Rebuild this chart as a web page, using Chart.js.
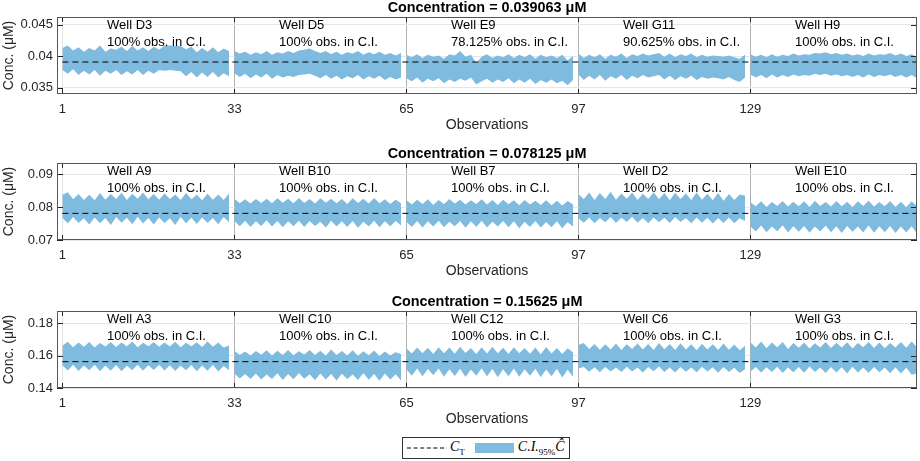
<!DOCTYPE html>
<html lang="en">
<head>
    <meta charset="UTF-8">
    <title>Confidence intervals per well</title>
    <script src="https://cdn.jsdelivr.net/npm/chart.js"></script>
    <style>
        body {
            margin: 0;
            background: #fff;
            font-family: "Liberation Sans", Arial, sans-serif;
        }
        #wrap {
            position: relative;
            width: 920px;
            height: 461px;
        }
        #wrap canvas {
            position: absolute;
            left: 0;
        }
        #legend {
            position: absolute;
            left: 402px;
            top: 437px;
            width: 166px;
            height: 20px;
            border: 1px solid #333;
            display: flex;
            align-items: center;
            font-family: "Liberation Serif", "DejaVu Serif", serif;
            font-style: italic;
            font-size: 14px;
            color: #000;
        }
        #legend sub {
            font-size: 9px;
            font-style: normal;
        }
        .patch {
            display: inline-block;
            width: 39px;
            height: 10px;
            background: rgb(127, 187, 222);
            margin: 0 4px 0 10px;
        }
    </style>
</head>
<body>
<div id="wrap">
    <canvas id="c1" width="920" height="137" style="top:0px"></canvas>
    <canvas id="c2" width="920" height="137" style="top:146px"></canvas>
    <canvas id="c3" width="920" height="137" style="top:294px"></canvas>

    <!-- figure legend -->
    <div id="legend">
        <svg width="40" height="6" style="margin-left:4px"><line x1="0" y1="3" x2="40" y2="3" stroke="#000" stroke-width="1" stroke-dasharray="4 2.6"/></svg>
        <span style="margin-left:3px">C<sub>T</sub></span>
        <span class="patch"></span>
        <span>C.I.<sub>95%</sub>Ĉ</span>
    </div>
</div>

<script>
    // shared x layout: 5 wells x 32 observations
    const WELL_STARTS = [1, 33, 65, 97, 129];
    const OBS_PER_WELL = 32;
    const X_TICKS = [1, 33, 65, 97, 129];
    const X_RANGE = [0, 160];

    // panel 1
    const p1Title = 'Concentration = 0.039063 μM';
    const p1Target = 0.039063;
    const p1Wells = ['Well D3', 'Well D5', 'Well E9', 'Well G11', 'Well H9'];
    const p1InCI = ['100%', '100%', '78.125%', '90.625%', '100%'];
    const p1YTicks = [0.035, 0.04, 0.045];
    const p1YLabels = ['0.035', '0.04', '0.045'];
    const p1YRange = [0.034, 0.0462];
    const p1Upper = [
        0.0413,0.0417,0.0409,0.0414,0.0407,0.0413,0.0409,0.0417,0.0407,0.0412,0.0410,0.0415,0.0408,0.0416,0.0409,0.0414,
        0.0408,0.0415,0.0410,0.0417,0.0417,0.0416,0.0416,0.0411,0.0415,0.0406,0.0413,0.0407,0.0414,0.0406,0.0412,0.0408,
        0.0408,0.0404,0.0407,0.0402,0.0406,0.0403,0.0408,0.0402,0.0406,0.0404,0.0408,0.0405,0.0409,0.0410,0.0412,0.0408,
        0.0405,0.0408,0.0403,0.0407,0.0402,0.0406,0.0404,0.0408,0.0402,0.0406,0.0403,0.0407,0.0402,0.0405,0.0401,0.0405,
        0.0402,0.0398,0.0403,0.0397,0.0402,0.0399,0.0401,0.0396,0.0403,0.0401,0.0408,0.0399,0.0402,0.0389,0.0399,0.0403,
        0.0397,0.0401,0.0398,0.0403,0.0397,0.0402,0.0398,0.0403,0.0396,0.0402,0.0398,0.0401,0.0397,0.0402,0.0393,0.0400,
        0.0404,0.0397,0.0402,0.0398,0.0403,0.0396,0.0402,0.0399,0.0404,0.0397,0.0403,0.0400,0.0404,0.0401,0.0403,0.0405,
        0.0399,0.0404,0.0398,0.0403,0.0400,0.0404,0.0398,0.0402,0.0399,0.0401,0.0400,0.0399,0.0401,0.0398,0.0396,0.0402,
        0.0403,0.0399,0.0402,0.0398,0.0403,0.0399,0.0402,0.0400,0.0404,0.0401,0.0403,0.0402,0.0405,0.0404,0.0406,0.0403,
        0.0405,0.0402,0.0404,0.0401,0.0403,0.0400,0.0404,0.0401,0.0403,0.0402,0.0405,0.0401,0.0404,0.0400,0.0403,0.0399
    ];
    const p1Lower = [
        0.0378,0.0372,0.0379,0.0370,0.0377,0.0371,0.0378,0.0369,0.0377,0.0372,0.0378,0.0370,0.0376,0.0371,0.0378,0.0370,
        0.0377,0.0372,0.0378,0.0377,0.0378,0.0377,0.0376,0.0368,0.0375,0.0366,0.0374,0.0367,0.0375,0.0366,0.0373,0.0368,
        0.0373,0.0367,0.0372,0.0365,0.0371,0.0366,0.0372,0.0364,0.0370,0.0366,0.0369,0.0367,0.0370,0.0371,0.0372,0.0369,
        0.0365,0.0370,0.0364,0.0369,0.0363,0.0368,0.0365,0.0370,0.0363,0.0368,0.0364,0.0369,0.0362,0.0367,0.0363,0.0366,
        0.0365,0.0360,0.0366,0.0358,0.0364,0.0360,0.0365,0.0357,0.0363,0.0359,0.0364,0.0361,0.0366,0.0355,0.0360,0.0364,
        0.0358,0.0363,0.0359,0.0365,0.0357,0.0363,0.0358,0.0364,0.0356,0.0362,0.0358,0.0363,0.0357,0.0361,0.0354,0.0362,
        0.0371,0.0362,0.0369,0.0363,0.0370,0.0361,0.0368,0.0364,0.0370,0.0362,0.0369,0.0365,0.0370,0.0366,0.0368,0.0370,
        0.0363,0.0369,0.0362,0.0368,0.0364,0.0369,0.0362,0.0367,0.0364,0.0366,0.0365,0.0363,0.0367,0.0362,0.0359,0.0366,
        0.0371,0.0366,0.0370,0.0365,0.0371,0.0366,0.0370,0.0367,0.0371,0.0368,0.0370,0.0369,0.0372,0.0370,0.0372,0.0369,
        0.0371,0.0368,0.0370,0.0367,0.0370,0.0366,0.0371,0.0367,0.0370,0.0368,0.0371,0.0367,0.0370,0.0366,0.0370,0.0365
    ];

    // panel 2
    const p2Title = 'Concentration = 0.078125 μM';
    const p2Target = 0.078125;
    const p2Wells = ['Well A9', 'Well B10', 'Well B7', 'Well D2', 'Well E10'];
    const p2InCI = ['100%', '100%', '100%', '100%', '100%'];
    const p2YTicks = [0.07, 0.08, 0.09];
    const p2YLabels = ['0.07', '0.08', '0.09'];
    const p2YRange = [0.07, 0.0935];
    const p2Upper = [
        0.0838,0.0846,0.0824,0.0840,0.0822,0.0838,0.0821,0.0843,0.0823,0.0840,0.0825,0.0844,0.0822,0.0841,0.0826,0.0845,
        0.0824,0.0840,0.0823,0.0842,0.0825,0.0839,0.0822,0.0843,0.0824,0.0838,0.0821,0.0841,0.0823,0.0839,0.0822,0.0842,
        0.0826,0.0812,0.0824,0.0811,0.0825,0.0813,0.0826,0.0812,0.0827,0.0814,0.0826,0.0812,0.0828,0.0813,0.0825,0.0811,
        0.0827,0.0814,0.0826,0.0812,0.0825,0.0810,0.0827,0.0813,0.0826,0.0811,0.0828,0.0812,0.0824,0.0810,0.0823,0.0812,
        0.0822,0.0808,0.0823,0.0810,0.0824,0.0807,0.0822,0.0809,0.0825,0.0811,0.0823,0.0808,0.0821,0.0810,0.0824,0.0808,
        0.0822,0.0807,0.0823,0.0809,0.0821,0.0806,0.0822,0.0808,0.0820,0.0807,0.0821,0.0806,0.0820,0.0805,0.0819,0.0808,
        0.0840,0.0824,0.0845,0.0822,0.0843,0.0825,0.0847,0.0823,0.0842,0.0826,0.0845,0.0822,0.0841,0.0825,0.0846,0.0824,
        0.0843,0.0821,0.0844,0.0825,0.0842,0.0822,0.0845,0.0823,0.0841,0.0821,0.0843,0.0820,0.0840,0.0822,0.0839,0.0836,
        0.0815,0.0803,0.0818,0.0801,0.0816,0.0804,0.0819,0.0802,0.0817,0.0803,0.0818,0.0801,0.0820,0.0804,0.0816,0.0802,
        0.0819,0.0803,0.0817,0.0801,0.0818,0.0804,0.0820,0.0802,0.0816,0.0803,0.0819,0.0801,0.0817,0.0800,0.0818,0.0803
    ];
    const p2Lower = [
        0.0768,0.0750,0.0770,0.0752,0.0766,0.0747,0.0769,0.0751,0.0767,0.0746,0.0770,0.0753,0.0768,0.0748,0.0771,0.0750,
        0.0767,0.0747,0.0769,0.0752,0.0766,0.0746,0.0770,0.0751,0.0768,0.0749,0.0769,0.0752,0.0767,0.0748,0.0770,0.0754,
        0.0758,0.0742,0.0759,0.0740,0.0757,0.0743,0.0760,0.0741,0.0758,0.0739,0.0757,0.0742,0.0759,0.0740,0.0758,0.0743,
        0.0756,0.0738,0.0759,0.0741,0.0757,0.0740,0.0758,0.0737,0.0756,0.0741,0.0759,0.0739,0.0757,0.0742,0.0758,0.0744,
        0.0756,0.0740,0.0758,0.0738,0.0757,0.0741,0.0759,0.0739,0.0756,0.0742,0.0758,0.0737,0.0757,0.0740,0.0759,0.0738,
        0.0756,0.0741,0.0758,0.0739,0.0757,0.0736,0.0756,0.0740,0.0758,0.0738,0.0755,0.0739,0.0757,0.0736,0.0754,0.0741,
        0.0766,0.0753,0.0769,0.0751,0.0767,0.0754,0.0770,0.0752,0.0768,0.0755,0.0771,0.0753,0.0767,0.0751,0.0769,0.0754,
        0.0768,0.0752,0.0770,0.0755,0.0767,0.0751,0.0769,0.0753,0.0768,0.0750,0.0767,0.0752,0.0769,0.0751,0.0766,0.0758,
        0.0742,0.0726,0.0744,0.0724,0.0741,0.0727,0.0745,0.0723,0.0742,0.0725,0.0743,0.0722,0.0741,0.0726,0.0744,0.0724,
        0.0742,0.0721,0.0743,0.0725,0.0741,0.0723,0.0744,0.0722,0.0742,0.0724,0.0743,0.0721,0.0741,0.0723,0.0742,0.0720
    ];

    // panel 3
    const p3Title = 'Concentration = 0.15625 μM';
    const p3Target = 0.15625;
    const p3Wells = ['Well A3', 'Well C10', 'Well C12', 'Well C6', 'Well G3'];
    const p3InCI = ['100%', '100%', '100%', '100%', '100%'];
    const p3YTicks = [0.14, 0.16, 0.18];
    const p3YLabels = ['0.14', '0.16', '0.18'];
    const p3YRange = [0.14, 0.1875];
    const p3Upper = [
        0.1660,0.1685,0.1652,0.1680,0.1655,0.1683,0.1650,0.1678,0.1656,0.1684,0.1653,0.1681,0.1658,0.1686,0.1652,0.1679,
        0.1657,0.1683,0.1654,0.1680,0.1656,0.1685,0.1651,0.1679,0.1657,0.1682,0.1653,0.1686,0.1655,0.1680,0.1650,0.1662,
        0.1630,0.1603,0.1625,0.1600,0.1628,0.1605,0.1632,0.1601,0.1629,0.1604,0.1634,0.1602,0.1627,0.1606,0.1635,0.1603,
        0.1630,0.1600,0.1637,0.1604,0.1628,0.1601,0.1633,0.1599,0.1626,0.1602,0.1631,0.1598,0.1625,0.1600,0.1620,0.1610,
        0.1645,0.1612,0.1650,0.1615,0.1648,0.1610,0.1652,0.1614,0.1649,0.1611,0.1654,0.1616,0.1647,0.1609,0.1651,0.1613,
        0.1655,0.1615,0.1648,0.1610,0.1652,0.1614,0.1646,0.1611,0.1650,0.1608,0.1653,0.1612,0.1647,0.1609,0.1645,0.1620,
        0.1665,0.1677,0.1640,0.1672,0.1636,0.1670,0.1638,0.1674,0.1635,0.1669,0.1640,0.1675,0.1637,0.1671,0.1634,0.1678,
        0.1639,0.1672,0.1635,0.1676,0.1638,0.1670,0.1633,0.1673,0.1637,0.1669,0.1634,0.1674,0.1636,0.1668,0.1632,0.1660,
        0.1682,0.1650,0.1686,0.1645,0.1680,0.1652,0.1684,0.1640,0.1678,0.1648,0.1681,0.1643,0.1676,0.1650,0.1683,0.1646,
        0.1679,0.1649,0.1682,0.1644,0.1677,0.1651,0.1684,0.1647,0.1680,0.1645,0.1678,0.1650,0.1683,0.1648,0.1686,0.1652
    ];
    const p3Lower = [
        0.1540,0.1508,0.1543,0.1505,0.1538,0.1510,0.1544,0.1503,0.1539,0.1507,0.1542,0.1504,0.1537,0.1509,0.1543,0.1506,
        0.1540,0.1511,0.1544,0.1508,0.1541,0.1505,0.1538,0.1510,0.1542,0.1503,0.1539,0.1507,0.1543,0.1502,0.1536,0.1510,
        0.1490,0.1458,0.1486,0.1455,0.1489,0.1452,0.1484,0.1456,0.1491,0.1450,0.1487,0.1454,0.1492,0.1457,0.1485,0.1448,
        0.1490,0.1453,0.1486,0.1446,0.1488,0.1455,0.1484,0.1449,0.1492,0.1451,0.1487,0.1445,0.1489,0.1452,0.1485,0.1447,
        0.1515,0.1475,0.1520,0.1472,0.1517,0.1478,0.1521,0.1470,0.1516,0.1474,0.1519,0.1468,0.1514,0.1476,0.1522,0.1471,
        0.1518,0.1467,0.1515,0.1473,0.1520,0.1469,0.1516,0.1475,0.1519,0.1466,0.1514,0.1472,0.1518,0.1465,0.1513,0.1470,
        0.1520,0.1529,0.1500,0.1528,0.1497,0.1530,0.1502,0.1527,0.1498,0.1531,0.1501,0.1526,0.1496,0.1529,0.1503,0.1532,
        0.1499,0.1527,0.1495,0.1530,0.1500,0.1526,0.1497,0.1531,0.1502,0.1528,0.1494,0.1529,0.1499,0.1525,0.1492,0.1515,
        0.1500,0.1530,0.1495,0.1528,0.1498,0.1531,0.1493,0.1527,0.1497,0.1529,0.1494,0.1532,0.1499,0.1526,0.1492,0.1530,
        0.1496,0.1528,0.1490,0.1531,0.1495,0.1527,0.1493,0.1529,0.1497,0.1526,0.1491,0.1528,0.1489,0.1525,0.1482,0.1490
    ];

    const BAND = 'rgb(127, 187, 222)';
    const FONT = '"Liberation Sans", Arial, Helvetica, sans-serif';
    const TEXT = '#262626';

    // well labels, inner tick marks and the axes box
    const framePlugin = {
        id: 'frame',
        afterDraw(chart, args, opts) {
            const { ctx, chartArea: a, scales: { x, y } } = chart;
            ctx.save();

            ctx.font = '13px ' + FONT;
            ctx.fillStyle = '#000';
            ctx.textAlign = 'left';
            ctx.textBaseline = 'alphabetic';
            opts.wells.forEach((name, w) => {
                const px = x.getPixelForValue(WELL_STARTS[w] + 8.3);
                ctx.fillText(name, px, a.top + 12.5);
                ctx.fillText(opts.inCI[w] + ' obs. in C.I.', px, a.top + 29);
            });

            ctx.strokeStyle = TEXT;
            ctx.lineWidth = 1;
            ctx.beginPath();
            X_TICKS.forEach(v => {
                const px = Math.round(x.getPixelForValue(v)) + 0.5;
                ctx.moveTo(px, a.bottom); ctx.lineTo(px, a.bottom - 5);
                ctx.moveTo(px, a.top); ctx.lineTo(px, a.top + 5);
            });
            opts.yTicks.forEach(v => {
                const py = Math.round(y.getPixelForValue(v)) + 0.5;
                ctx.moveTo(a.left, py); ctx.lineTo(a.left + 6, py);
                ctx.moveTo(a.right, py); ctx.lineTo(a.right - 6, py);
            });
            ctx.stroke();

            ctx.strokeStyle = '#555';
            ctx.strokeRect(Math.round(a.left) + 0.5, Math.round(a.top) + 0.5,
                Math.round(a.width) - 1, Math.round(a.height) - 1);
            ctx.restore();
        }
    };

    function wellPoints(values, w) {
        const pts = [];
        for (let i = 0; i < OBS_PER_WELL; i++) {
            pts.push({ x: WELL_STARTS[w] + i, y: values[w * OBS_PER_WELL + i] });
        }
        return pts;
    }

    function buildChart(id, title, target, wells, inCI, yTicks, yLabels, yRange, upper, lower) {
        // dashed target line first so it is drawn on top
        const datasets = [{
            label: 'C_T',
            data: [{ x: 1, y: target }, { x: X_RANGE[1], y: target }],
            borderColor: '#000',
            borderWidth: 1,
            borderDash: [6, 4],
            pointRadius: 0,
            fill: false
        }];
        wells.forEach((name, w) => {
            datasets.push({
                label: name + ' lower',
                data: wellPoints(lower, w),
                borderWidth: 0,
                pointRadius: 0,
                fill: false
            });
            datasets.push({
                label: name + ' upper',
                data: wellPoints(upper, w),
                borderWidth: 0,
                pointRadius: 0,
                backgroundColor: BAND,
                fill: '-1'
            });
        });

        return new Chart(document.getElementById(id), {
            type: 'line',
            data: { datasets },
            plugins: [framePlugin],
            options: {
                responsive: false,
                animation: false,
                devicePixelRatio: 1,
                layout: { padding: { left: 0, right: 3, top: 0, bottom: 0 } },
                plugins: {
                    legend: { display: false },
                    tooltip: { enabled: false },
                    title: {
                        display: true,
                        text: title,
                        fullSize: false,
                        color: '#000',
                        font: { family: FONT, size: 14.4, weight: 'bold', lineHeight: 1.15 },
                        padding: { top: 0, bottom: 0.4 }
                    },
                    frame: { wells, inCI, yTicks }
                },
                scales: {
                    x: {
                        type: 'linear',
                        min: X_RANGE[0],
                        max: X_RANGE[1],
                        afterBuildTicks: s => { s.ticks = X_TICKS.map(v => ({ value: v })); },
                        afterFit: s => { s.height = 43; },
                        border: { display: false },
                        grid: {
                            drawTicks: false,
                            color: c => (c.tick && c.tick.value === 1) ? '#e2e2e2' : '#b0b0b0'
                        },
                        ticks: {
                            autoSkip: false,
                            maxRotation: 0,
                            padding: 8,
                            color: TEXT,
                            font: { family: FONT, size: 13 },
                            callback: v => String(v)
                        },
                        title: {
                            display: true,
                            text: 'Observations',
                            color: TEXT,
                            font: { family: FONT, size: 14 },
                            padding: { top: 0, bottom: 3 }
                        }
                    },
                    y: {
                        min: yRange[0],
                        max: yRange[1],
                        afterBuildTicks: s => { s.ticks = yTicks.map(v => ({ value: v })); },
                        afterFit: s => { s.width = 57; },
                        border: { display: false },
                        grid: { drawTicks: false, color: '#e6e6e6' },
                        ticks: {
                            padding: 4,
                            color: TEXT,
                            font: { family: FONT, size: 13 },
                            callback: (v, i) => yLabels[i]
                        },
                        title: {
                            display: true,
                            text: 'Conc. (μM)',
                            color: TEXT,
                            font: { family: FONT, size: 14 },
                            padding: { top: 1, bottom: 0 }
                        }
                    }
                }
            }
        });
    }

    buildChart('c1', p1Title, p1Target, p1Wells, p1InCI, p1YTicks, p1YLabels, p1YRange, p1Upper, p1Lower);
    buildChart('c2', p2Title, p2Target, p2Wells, p2InCI, p2YTicks, p2YLabels, p2YRange, p2Upper, p2Lower);
    buildChart('c3', p3Title, p3Target, p3Wells, p3InCI, p3YTicks, p3YLabels, p3YRange, p3Upper, p3Lower);
</script>
</body>
</html>
